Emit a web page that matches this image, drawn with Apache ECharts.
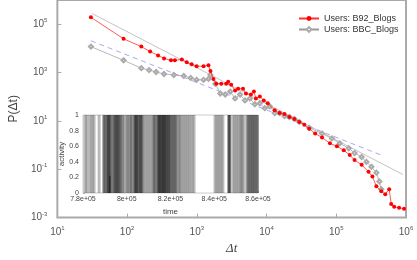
<!DOCTYPE html>
<html><head><meta charset="utf-8">
<script src="https://cdn.jsdelivr.net/npm/echarts@6/dist/echarts.min.js"></script>
<style>html,body{margin:0;padding:0;background:#fff}#c{width:417px;height:260px}</style>
</head><body><div id="c"></div><script>
// Main plot data: inter-event time distribution P(Δt)
const b92Dt = [30.3, 89, 160, 214, 278, 339, 426, 485, 610, 717, 844, 993, 1250, 1470, 1570, 1730, 1900, 2240, 2640, 2820, 3110, 3540, 3910, 4600, 5070, 5970, 6590, 7030, 8010, 9120, 10400, 13100, 15400, 18100, 21300, 25100, 29500, 34800, 40900, 49800, 62500, 81100, 1.02e5, 1.28e5, 1.56e5, 1.83e5, 2.31e5, 2.90e5, 3.30e5, 3.76e5, 4.42e5, 5.04e5, 5.74e5, 6.13e5, 6.76e5, 7.96e5, 9.37e5];
const b92P = [1.92e5, 2.48e4, 1.18e4, 7.4e3, 5.1e3, 3.85e3, 3.2e3, 3.2e3, 3.5e3, 2.65e3, 2.2e3, 1.83e3, 1.83e3, 2.0e3, 1.15e3, 546, 343, 343, 343, 413, 313, 179, 215, 215, 135, 123, 163, 85, 102, 70.5, 53.3, 27.8, 21.0, 19.2, 14.5, 12.1, 9.1, 6.9, 4.75, 2.99, 2.06, 1.18, 0.89, 0.61, 0.385, 0.242, 0.152, 0.0793, 0.0498, 0.0196, 0.0123, 0.0093, 0.0149, 0.00368, 0.00278, 0.00254, 0.00231];
const bbcDt = [30.3, 89, 160, 207, 261, 339, 469, 650, 817, 993, 1250, 1470, 1570, 1850, 2170, 2560, 3010, 3540, 4170, 4910, 5780, 6800, 8010, 9440, 11100, 13100, 15400, 18100, 21300, 25100, 29500, 40900, 62500, 86700, 1.12e5, 1.51e5, 1.83e5, 2.31e5, 2.71e5, 3.19e5, 3.76e5, 4.15e5, 4.42e5];
const bbcP = [1.18e4, 3.2e3, 1.52e3, 1.26e3, 1.05e3, 870, 792, 722, 600, 498, 498, 546, 792, 343, 135, 123, 163, 85, 123, 70.5, 85, 48.6, 53.3, 33.5, 40.4, 21.0, 21.0, 15.9, 14.5, 12.1, 9.1, 5.2, 2.99, 1.88, 1.18, 0.74, 0.465, 0.32, 0.201, 0.126, 0.0723, 0.0313, 0.0149];
const fitSolidDt = [31.3, 9.08e5];
const fitSolidP = [2.78e5, 0.060];
const fitDashDt = [30.3, 4.42e5];
const fitDashP = [2.06e4, 0.385];
const seriesNames = ['Users: B92_Blogs', 'Users: BBC_Blogs'];
// Inset: activity over time
const activityTimes = [780500, 781400, 782700, 783700, 784600, 786900, 789100, 789100, 789600,
  790500, 790500, 791000, 791400, 791400, 791900, 792300, 792800, 793700, 793700, 794200, 794600, 795100, 795100, 795500, 796000, 796500, 796500,
  797400, 797800, 798700, 799700, 800100, 801000, 801500, 801900,
  802900, 803300, 803300, 803800, 804200, 804200, 804700, 805100, 805600, 806000, 806000, 806500, 807000,
  807900, 808800, 809700, 810600, 811500, 812000, 812400,
  812900, 813800, 813800, 814300, 814300, 814700, 815200, 815200, 815600, 816100, 816100, 816600, 816600, 817000, 817500, 817500, 817900, 818400, 818800, 818800, 819300,
  819800, 820200, 820700, 821100, 821600, 822000, 822500, 823400, 823900, 824800, 825700, 826600, 827500, 828400, 829400, 830300,
  839900, 840800, 841700, 842600, 843500, 846300, 846300, 846300, 846700, 848100, 849000, 849900, 850800, 851700, 852200, 853100,
  854500, 854900, 855400, 855900, 856300, 856800, 857200, 857700, 858100, 858600, 859100, 859500];
const shortEventTimes = [792300];
const shortEventValues = [0.22];
const insetXTicks = ['7.8e+05', '8e+05', '8.2e+05', '8.4e+05', '8.6e+05'];

const zip = (a, b) => a.map((v, i) => [v, b[i]]);
const supFmt = v => { const e = Math.round(Math.log10(v)); return '{b|10}{s|' + e + '}'; };
const rich = { b: { fontSize: 10, color: '#555', fontFamily: 'Liberation Sans' }, s: { fontSize: 6, color: '#555', padding: [0, 0, 7, 0], fontFamily: 'Liberation Sans' } };

const chart = echarts.init(document.getElementById('c'), null, { renderer: 'canvas' });
chart.setOption({
  animation: false,
  backgroundColor: '#fff',
  textStyle: { fontFamily: 'Liberation Sans' },
  legend: {
    orient: 'vertical', left: 293, top: 9, itemWidth: 20, itemHeight: 6, itemGap: 2,
    textStyle: { fontSize: 9, color: '#333' },
    data: seriesNames
  },
  grid: [
    { left: 52, right: 11, top: -4, bottom: 41, show: true, borderColor: '#aaa', borderWidth: 2, backgroundColor: 'transparent' },
    { left: 83, top: 115, width: 175, height: 78, show: true, borderColor: '#ccc', borderWidth: 1, backgroundColor: '#fff', z: 5 }
  ],
  xAxis: [
    { type: 'log', gridIndex: 0, min: 10, max: 1e6, interval: 1, logBase: 10,
      axisLine: { show: false }, splitLine: { show: false },
      axisTick: { inside: true, length: 4, lineStyle: { color: '#aaa' } },
      axisLabel: { margin: 8, formatter: supFmt, rich: rich },
      name: 'Δt', nameLocation: 'middle', nameGap: 24,
      nameTextStyle: { fontSize: 13, fontStyle: 'italic', color: '#444', fontFamily: 'Liberation Serif' } },
    { type: 'value', gridIndex: 1, min: 780000, max: 860000, interval: 20000,
      axisLine: { show: false }, splitLine: { show: false },
      axisTick: { inside: true, length: 2, lineStyle: { color: '#999' } },
      axisLabel: { fontSize: 7, color: '#444', margin: 3, formatter: (v) => insetXTicks[Math.round((v - 780000) / 20000)] },
      name: 'time', nameLocation: 'middle', nameGap: 15, nameTextStyle: { fontSize: 8, color: '#444' } }
  ],
  yAxis: [
    { type: 'log', gridIndex: 0, min: 1e-3, max: 1e6, interval: 2, logBase: 10,
      axisLine: { show: false }, splitLine: { show: false },
      axisTick: { inside: true, length: 4, lineStyle: { color: '#aaa' } },
      axisLabel: { margin: 10, formatter: supFmt, rich: rich, showMaxLabel: false },
      name: 'P(Δt)', nameLocation: 'middle', nameGap: 35, nameRotate: 90,
      nameTextStyle: { fontSize: 12, color: '#444' } },
    { type: 'value', gridIndex: 1, min: 0, max: 1, interval: 0.2,
      axisLine: { show: false }, splitLine: { show: false },
      axisTick: { inside: true, length: 2, lineStyle: { color: '#999' } },
      minorTick: { show: true, splitNumber: 2, length: 1, lineStyle: { color: '#bbb' } },
      axisLabel: { fontSize: 7, color: '#444', margin: 4 },
      name: 'activity', nameLocation: 'middle', nameGap: 16, nameRotate: 90,
      nameTextStyle: { fontSize: 8, color: '#444' } }
  ],
  series: [
    { type: 'line', xAxisIndex: 0, yAxisIndex: 0, data: zip(fitSolidDt, fitSolidP), symbol: 'none', silent: true,
      lineStyle: { color: '#c4c4c4', width: 1 }, z: 2 },
    { type: 'line', xAxisIndex: 0, yAxisIndex: 0, data: zip(fitDashDt, fitDashP), symbol: 'none', silent: true,
      lineStyle: { color: '#a9a9ee', width: 1, type: [5, 4] }, z: 2 },
    { name: seriesNames[1], type: 'line', xAxisIndex: 0, yAxisIndex: 0, data: zip(bbcDt, bbcP),
      symbol: 'emptyDiamond', symbolSize: 4, itemStyle: { color: '#aaa', borderColor: '#999', borderWidth: 0.6 },
      lineStyle: { color: '#999', width: 0.7 }, z: 3 },
    { name: seriesNames[0], type: 'line', xAxisIndex: 0, yAxisIndex: 0, data: zip(b92Dt, b92P),
      symbol: 'circle', symbolSize: 4, itemStyle: { color: '#ff0000' },
      lineStyle: { color: '#ff3030', width: 0.8 }, z: 4 },
    { type: 'bar', xAxisIndex: 1, yAxisIndex: 1, data: activityTimes.map(t => [t, 1]), barWidth: 3,
      itemStyle: { color: 'rgba(0,0,0,0.27)' }, z: 6, silent: true },
    { type: 'bar', xAxisIndex: 1, yAxisIndex: 1, data: zip(shortEventTimes, shortEventValues), barWidth: 1, barGap: '-100%',
      itemStyle: { color: 'rgba(0,0,0,0.7)' }, z: 7, silent: true }
  ]
});
</script></body></html>
